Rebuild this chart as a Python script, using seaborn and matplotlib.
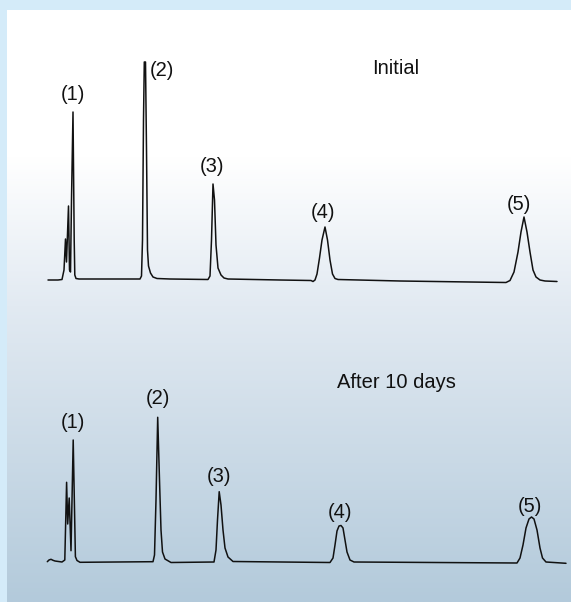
import numpy as np
import pandas as pd
import matplotlib
matplotlib.use("Agg")
import matplotlib.pyplot as plt
import seaborn as sns
from matplotlib.colors import LinearSegmentedColormap

sns.set_style("white")
plt.rcParams["font.family"] = ["Liberation Sans", "DejaVu Sans"]

# retention time (min) and detector response, initial run
t_initial = [0.40, 0.90, 1.10, 1.20, 1.275, 1.325, 1.425, 1.475, 1.525, 1.575, 1.65, 1.71, 1.74, 1.80, 1.95,
             3.00, 5.00, 5.075, 5.125, 5.175, 5.215, 5.275, 5.325, 5.375, 5.425, 5.525, 5.65, 5.85, 6.50,
             8.40, 8.50, 8.575, 8.65, 8.725, 8.80, 8.90, 9.05, 9.20, 9.40, 12.0,
             13.55, 13.65, 13.75, 13.85, 13.975, 14.10, 14.25, 14.375, 14.50, 14.625, 14.75, 14.90,
             18.0, 21.5, 23.3, 23.5, 23.7, 23.9, 24.05, 24.2, 24.35, 24.5, 24.65, 24.8, 25.0, 25.25, 25.85]
s_initial = [-0.5, -0.5, 0, 9.5, 40.5, 17.5, 73.5, 9.5, 7.5, 79.5, 167.5, 39.5, 4.5, 1, 0.5,
             0.5, 0.5, 3.5, 39.5, 159.5, 217.5, 217.5, 129.5, 29.5, 13.5, 6.5, 2.5, 1, 0.5,
             0, 3.5, 39.5, 95.5, 79.5, 34.5, 11.5, 4.5, 1.5, 0.5, -0.5,
             -1, -2, -0.5, 5.5, 21.5, 39.5, 52.5, 39.5, 19.5, 5.5, 1, 0,
             -1.5, -2.5, -3, -1, 7.5, 27.5, 47.5, 62.5, 47.5, 27.5, 9.5, 2.5, -0.5, -1.5, -2]

# after 10 days
t_10days = [0.365, 0.45, 0.55, 0.65, 0.75, 1.10, 1.24, 1.33, 1.385, 1.46, 1.55, 1.66, 1.77, 1.85, 2.00,
            5.65, 5.725, 5.80, 5.885, 5.975, 6.05, 6.125, 6.25, 6.55,
            8.70, 8.80, 8.875, 8.96, 9.05, 9.15, 9.25, 9.40, 9.65,
            14.5, 14.65, 14.75, 14.85, 14.95, 15.05, 15.15, 15.25, 15.35, 15.5, 15.7,
            23.85, 24.0, 24.15, 24.3, 24.45, 24.575, 24.7, 24.85, 25.0, 25.125, 25.3, 26.3]
s_10days = [0.3, 2, 2.7, 1.7, 1, 0, 2, 79.7, 38, 64, 11.3, 122, 5.3, 1.5, -0.3,
            0.3, 7, 62, 144.7, 82, 32, 10, 3, -0.5,
            0, 12, 42, 70.3, 57, 32, 14, 5, 0.5,
            -0.5, 4, 17, 31, 36, 36.5, 34, 22, 10, 2, 0,
            -1, 4, 17, 34, 43, 45, 43, 32, 14, 4, 0, -1.3]

peak_labels = ["(1)", "(2)", "(3)", "(4)", "(5)"]
label_t_initial = [1.65, 6.1, 8.6, 14.15, 23.95]
label_s_initial = [185.5, 208.5, 113.5, 66.5, 75.5]
label_t_10days = [1.65, 5.9, 8.95, 15.0, 24.5]
label_s_10days = [140, 163, 86, 49, 56]
titles = ["Initial", "After 10 days"]
title_t = [17.8, 17.8]
title_s = [211.5, 180]

df_initial = pd.DataFrame({"time": t_initial, "signal": s_initial})
df_10days = pd.DataFrame({"time": t_10days, "signal": s_10days})

fig = plt.figure(figsize=(5.71, 6.02), dpi=100)
fig.patch.set_facecolor("#d4ebf9")

# gradient panel behind the traces
bg = fig.add_axes([7 / 571, 0, 564 / 571, 592 / 602])
cmap = LinearSegmentedColormap.from_list("panel", [(0, "#ffffff"), (0.25, "#ffffff"), (0.5, "#e2eaf2"), (1, "#b3cadb")])
bg.imshow(np.linspace(0, 1, 256).reshape(-1, 1), aspect="auto", cmap=cmap, extent=[0, 1, 1, 0])
bg.set_axis_off()

ax_top = fig.add_axes([0, 301 / 602, 1, 301 / 602])
ax_bot = fig.add_axes([0, 0, 1, 301 / 602])

panels = [
    (ax_top, df_initial, label_t_initial, label_s_initial, (-21.5, 279.5)),
    (ax_bot, df_10days, label_t_10days, label_s_10days, (-40, 261)),
]
for i, (ax, df, lt, ls, ylim) in enumerate(panels):
    ax.set_facecolor("none")
    sns.lineplot(data=df, x="time", y="signal", ax=ax, sort=False, estimator=None,
                 color="#111111", linewidth=1.1)
    for lab, x, y in zip(peak_labels, lt, ls):
        ax.text(x, y, lab, ha="center", va="center", fontsize=14.5, color="#111111")
    ax.text(title_t[i], title_s[i], titles[i], ha="center", va="center", fontsize=14.5, color="#111111")
    ax.set_xlim(-2, 26.55)
    ax.set_ylim(*ylim)
    ax.set_axis_off()

fig.savefig("out.png", dpi=100, facecolor=fig.get_facecolor())
